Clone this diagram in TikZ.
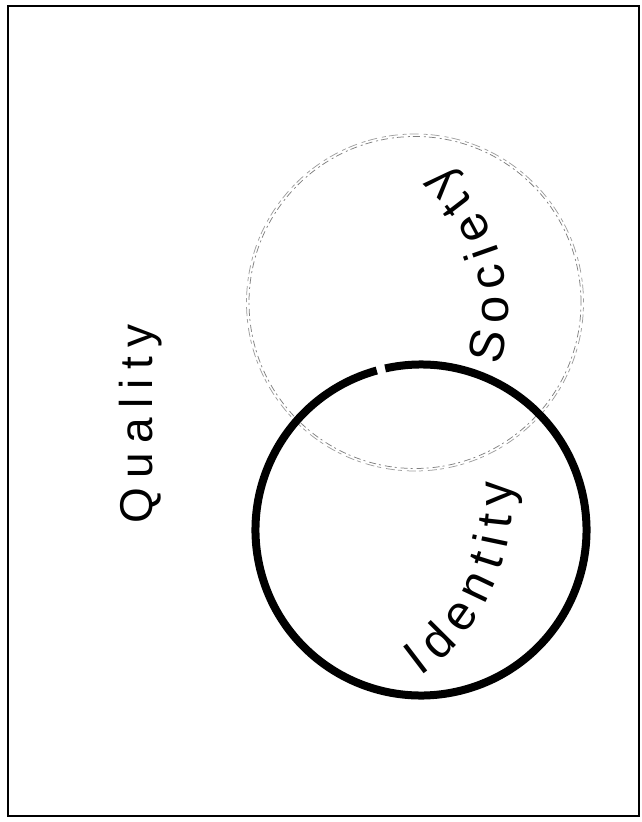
\documentclass[tikz,border=0pt]{standalone}
\usepackage{fontspec}
\usetikzlibrary{decorations.text}
\newfontfamily\lblfont{Liberation Sans}
\newfontfamily\qualfont{Liberation Sans}[LetterSpace=20]
\begin{document}
\begin{tikzpicture}[x=1pt,y=1pt,
  frame/.style={draw=black, line width=1.6pt},
  societyring/.style={draw=black!50, line width=0.75pt, dash pattern=on 7pt off 3pt on 2pt off 4pt},
  identityring/.style={draw=black, line width=8pt},
  ]
\useasboundingbox (0,0) rectangle (641,822);
\draw[frame] (8,6) rectangle (639,816);
\coordinate (socC) at (415,519.5);
\coordinate (idC) at (421,292);
\coordinate (socT) at (320,512);
\coordinate (idT) at (294,323);
\draw[societyring] (socC) circle[radius=166pt];
\draw[societyring, dash pattern=on 4pt off 5pt on 9pt off 3pt, draw=black!38] (socC) circle[radius=168.5pt];
\draw[identityring] ([shift={(105.5:165.5pt)}]idC) arc[start angle=105.5, end angle=462.5, radius=165.5pt];
\node[rotate=90, anchor=base, inner sep=0pt] (quality) at (152,398) {\fontsize{46}{55}\qualfont Quality};
\path[decorate, decoration={text along path, text={|\fontsize{49}{58}\lblfont|Society}, text align={fit to path}}] ([shift={(-17:188pt)}]socT) arc[start angle=-17, end angle=50, radius=188pt];
\path[decorate, decoration={text along path, text={|\fontsize{49}{58}\lblfont|Identity}, text align={fit to path}}] ([shift={(-54.5:218pt)}]idT) arc[start angle=-54.5, end angle=4.6, radius=218pt];
\end{tikzpicture}
\end{document}
